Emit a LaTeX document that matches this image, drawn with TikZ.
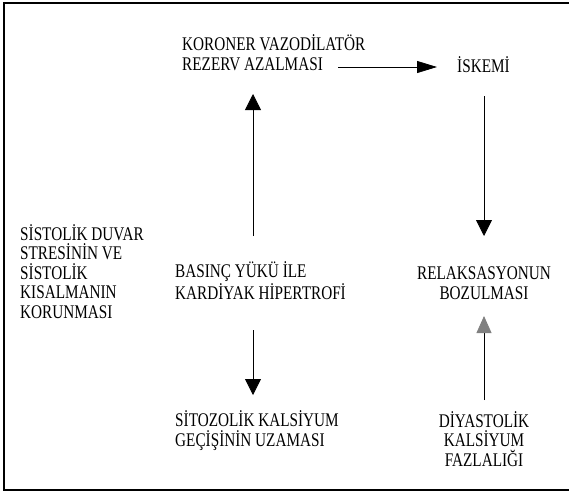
\documentclass[tikz,border=0pt]{standalone}
\usepackage{fontspec}
\setmainfont{Liberation Serif}[FakeStretch=0.79]
\usetikzlibrary{arrows.meta}
\definecolor{headgray}{RGB}{128,128,128}
\tikzset{
  lbl/.style={inner sep=0pt, anchor=base west, align=left, font=\fontsize{19.3}{19.5}\selectfont},
  clbl/.style={inner sep=0pt, anchor=base, align=center, font=\fontsize{19.3}{19.5}\selectfont},
  conn/.style={line width=0.8pt, -{Triangle[length=16pt,width=16pt]}},
  hconn/.style={line width=0.8pt, -{Triangle[length=20pt,width=12pt]}},
  gconn/.style={line width=0.8pt, -{Triangle[length=17pt,width=15pt,color=headgray,fill=headgray]}},
}
\begin{document}
\begin{tikzpicture}[x=1pt,y=-1pt]
\useasboundingbox (0,0) rectangle (569,496);
\draw[line width=2pt] (600,3) -- (4,3) -- (4,490) -- (600,490);
\node[lbl] (kor) at (182,70) {KORONER VAZODİLATÖR\\REZERV AZALMASI};
\node[lbl] (isk) at (457,72) {İSKEMİ};
\node[lbl] (sis) at (20,318) {SİSTOLİK DUVAR\\STRESİNİN VE\\SİSTOLİK\\KISALMANIN\\KORUNMASI};
\node[lbl] (bas) at (175,299) {BASINÇ YÜKÜ İLE\\KARDİYAK HİPERTROFİ};
\node[clbl] (rel) at (484,299) {RELAKSASYONUN\\BOZULMASI};
\node[lbl] (sit) at (175,446) {SİTOZOLİK KALSİYUM\\GEÇİŞİNİN UZAMASI};
\node[clbl] (diy) at (484,466) {DİYASTOLİK\\KALSİYUM\\FAZLALIĞI};
\coordinate (hs) at (338,67);
\coordinate (he) at (437,67);
\coordinate (u1s) at (253,236);
\coordinate (u1e) at (253,94);
\coordinate (d1s) at (484,96);
\coordinate (d1e) at (484,236);
\coordinate (d2s) at (253,330);
\coordinate (d2e) at (253,395);
\coordinate (u2s) at (484,400);
\coordinate (u2e) at (484,316);
\draw[hconn] (hs) -- (he);
\draw[conn] (u1s) -- (u1e);
\draw[conn] (d1s) -- (d1e);
\draw[conn] (d2s) -- (d2e);
\draw[gconn] (u2s) -- (u2e);
\end{tikzpicture}
\end{document}
